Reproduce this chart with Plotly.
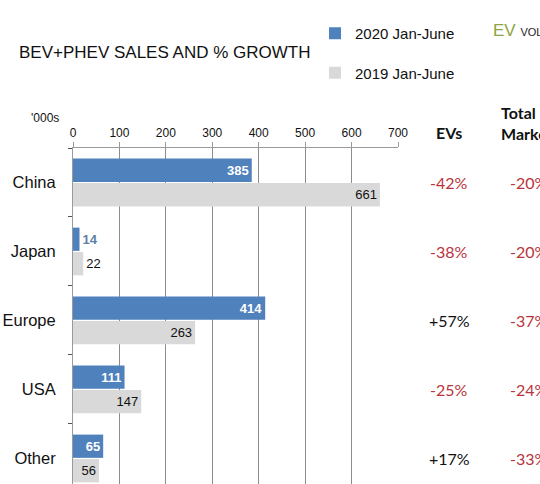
import plotly.graph_objects as go

regions = ["China", "Japan", "Europe", "USA", "Other"]
sales_2020 = [385, 14, 414, 111, 65]
sales_2019 = [661, 22, 263, 147, 56]
ev_growth = ["-42%", "-38%", "+57%", "-25%", "+17%"]
market_growth = ["-20%", "-20%", "-37%", "-24%", "-33%"]
x_ticks = [0, 100, 200, 300, 400, 500, 600, 700]

BLUE = "#4F81BD"
GRAY = "#D9D9D9"
RED = "#B8343C"
ARIAL = "Liberation Sans, Arial, sans-serif"
CAL = "Lato, Calibri, sans-serif"

W, H = 540, 484
L, R, T, B = 73, 142, 148, 0
PW = W - L - R
PH = H - T - B


def px_x(p):
    return (p - L) / PW


def px_y(p):
    return (H - B - p) / PH


def pos_for(vals, small):
    return ["outside" if v < small else "inside" for v in vals]


fig = go.Figure()
fig.add_trace(go.Bar(
    y=regions, x=sales_2020, orientation="h", name="2020 Jan-June",
    marker=dict(color=BLUE, line=dict(width=0)),
    text=[str(v) for v in sales_2020],
    textposition=pos_for(sales_2020, 20),
    textfont=dict(family=ARIAL, size=13, weight="bold",
                  color=["#FFFFFF" if v >= 20 else "#5B7FA6" for v in sales_2020]),
    insidetextanchor="end", constraintext="none", cliponaxis=False,
    legendgroup="a", hoverinfo="x+name",
))
fig.add_trace(go.Bar(
    y=regions, x=sales_2019, orientation="h", name="2019 Jan-June",
    marker=dict(color=GRAY, line=dict(width=0)),
    text=[str(v) for v in sales_2019],
    textposition=pos_for(sales_2019, 30),
    textfont=dict(family=ARIAL, size=13, color="#111111"),
    insidetextanchor="end", constraintext="none", cliponaxis=False,
    legendgroup="b", hoverinfo="x+name",
))

annotations = []
annotations.append(dict(text="BEV+PHEV SALES AND % GROWTH", xref="paper", yref="paper",
                        x=px_x(17), y=px_y(53), xanchor="left", yanchor="middle",
                        showarrow=False, font=dict(family=ARIAL, size=17, color="#111111")))
annotations.append(dict(text="'000s", xref="paper", yref="paper",
                        x=px_x(29), y=px_y(118), xanchor="left", yanchor="middle",
                        showarrow=False, font=dict(family=ARIAL, size=12, color="#111111")))
annotations.append(dict(text="<span style='color:#8FA33F'>EV</span> <span style='font-size:11px'>VOLUMES</span>",
                        xref="paper", yref="paper",
                        x=px_x(491), y=px_y(31), xanchor="left", yanchor="middle",
                        showarrow=False, font=dict(family=ARIAL, size=17, color="#222222")))
annotations.append(dict(text="<b>EVs</b>", xref="paper", yref="paper",
                        x=px_x(449), y=px_y(133), xanchor="center", yanchor="middle",
                        showarrow=False, font=dict(family=CAL, size=16, color="#111111")))
annotations.append(dict(text="<b>Total<br>Market</b>", xref="paper", yref="paper",
                        x=px_x(499), y=px_y(123), xanchor="left", yanchor="middle", align="left",
                        showarrow=False, font=dict(family=CAL, size=16, color="#111111")))
for reg, ev, mk in zip(regions, ev_growth, market_growth):
    annotations.append(dict(text=ev, xref="paper", yref="y", x=px_x(449), y=reg,
                            xanchor="center", yanchor="middle", showarrow=False,
                            font=dict(family=CAL, size=16,
                                      color=RED if ev.startswith("-") else "#111111")))
    annotations.append(dict(text=mk, xref="paper", yref="y", x=px_x(508), y=reg,
                            xanchor="left", yanchor="middle", showarrow=False,
                            font=dict(family=CAL, size=16,
                                      color=RED if mk.startswith("-") else "#111111")))

fig.update_layout(
    width=W, height=H,
    margin=dict(l=L, r=R, t=T, b=B, pad=0),
    paper_bgcolor="white", plot_bgcolor="white",
    barmode="group", bargap=0.29, bargroupgap=0.05,
    showlegend=True,
    legend=dict(x=px_x(315), y=px_y(17), xanchor="left", yanchor="top",
                font=dict(family=ARIAL, size=15, color="#111111"),
                tracegroupgap=17, bgcolor="rgba(0,0,0,0)"),
    annotations=annotations,
    xaxis=dict(side="top", range=[0, 700], tickvals=x_ticks,
               ticktext=[str(v) for v in x_ticks],
               showgrid=True, gridcolor="#8C8C8C", gridwidth=1,
               showline=True, linecolor="#9A9A9A", linewidth=1,
               ticks="outside", ticklen=5, tickcolor="#9A9A9A",
               tickfont=dict(family=ARIAL, size=12, color="#111111"),
               zeroline=False, fixedrange=True),
    yaxis=dict(type="category", categoryorder="array", categoryarray=regions,
               range=[4.37, -0.5], showgrid=False,
               showline=True, linecolor="#9A9A9A", linewidth=1,
               ticks="outside", tickson="boundaries", ticklen=4, tickcolor="#555555",
               ticklabelstandoff=13,
               tickfont=dict(family=ARIAL, size=16.5, color="#111111"),
               fixedrange=True),
)

fig.write_html(
    "out.html",
    config={"displayModeBar": False, "staticPlot": False},
    post_script="document.body.style.margin='0';document.body.style.overflow='hidden';",
)
